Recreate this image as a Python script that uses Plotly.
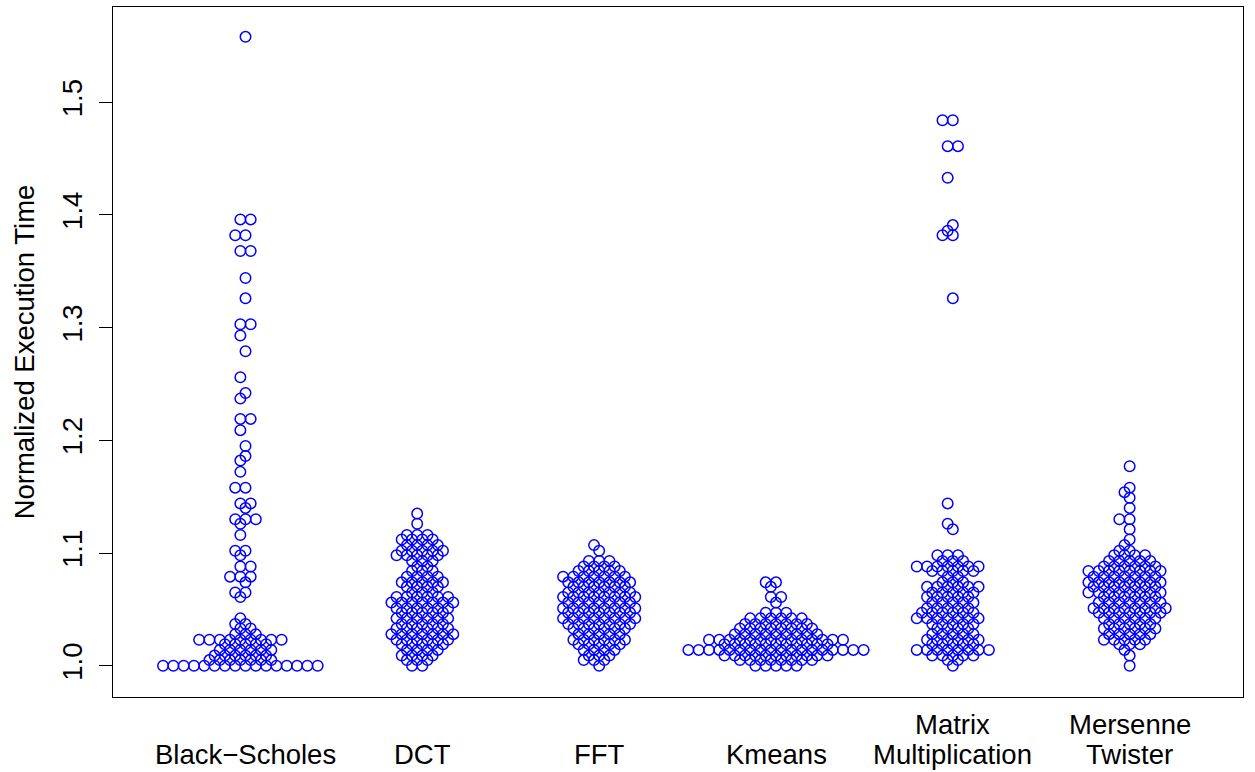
import numpy as np
import plotly.graph_objects as go

# Benchmarks and their normalized run times (value, number of runs at that value)
categories = ["Black\u2212Scholes", "DCT", "FFT", "Kmeans", "Matrix\nMultiplication", "Mersenne\nTwister"]

black_scholes_vals = [1.000, 1.005, 1.009, 1.014, 1.019, 1.023, 1.028, 1.033, 1.037, 1.042,
                      1.061, 1.065, 1.074, 1.079, 1.088, 1.098, 1.102, 1.116, 1.126, 1.130,
                      1.140, 1.144, 1.158, 1.172, 1.182, 1.186, 1.195, 1.209, 1.219, 1.237,
                      1.242, 1.256, 1.279, 1.293, 1.303, 1.326, 1.344, 1.368, 1.382, 1.396, 1.558]
black_scholes_n = [16, 7, 6, 6, 5, 9, 3, 2, 2, 1,
                   1, 2, 1, 3, 2, 1, 2, 1, 1, 3,
                   1, 2, 2, 1, 1, 1, 1, 1, 2, 1,
                   1, 1, 1, 1, 2, 1, 1, 2, 2, 2, 1]

dct_vals = [1.000, 1.005, 1.009, 1.014, 1.019, 1.023, 1.028, 1.033, 1.037, 1.042,
            1.047, 1.051, 1.056, 1.061, 1.065, 1.070, 1.074, 1.079, 1.084, 1.088,
            1.093, 1.098, 1.102, 1.107, 1.112, 1.116, 1.126, 1.135]
dct_n = [2, 3, 4, 4, 5, 6, 7, 6, 5, 6,
         5, 6, 7, 6, 3, 4, 5, 4, 3, 2,
         3, 5, 5, 4, 4, 3, 1, 1]

fft_vals = [1.000, 1.005, 1.009, 1.014, 1.019, 1.023, 1.028, 1.033, 1.037, 1.042,
            1.047, 1.051, 1.056, 1.061, 1.065, 1.070, 1.074, 1.079, 1.084, 1.088,
            1.093, 1.102, 1.107]
fft_n = [1, 3, 3, 4, 5, 6, 5, 6, 7, 8,
         7, 8, 7, 8, 7, 6, 7, 7, 5, 4,
         3, 1, 1]

kmeans_vals = [1.000, 1.005, 1.009, 1.014, 1.019, 1.023, 1.028, 1.033, 1.037, 1.042,
               1.047, 1.056, 1.061, 1.070, 1.074]
kmeans_n = [5, 8, 11, 18, 11, 14, 9, 8, 7, 6,
            3, 1, 2, 1, 2]

matrix_vals = [1.000, 1.005, 1.009, 1.014, 1.019, 1.023, 1.028, 1.033, 1.037, 1.042,
               1.047, 1.051, 1.056, 1.061, 1.065, 1.070, 1.074, 1.079, 1.084, 1.088,
               1.093, 1.098, 1.121, 1.126, 1.144, 1.326, 1.382, 1.386, 1.391, 1.433,
               1.461, 1.484]
matrix_n = [1, 2, 5, 8, 5, 6, 5, 4, 5, 7,
            6, 5, 5, 5, 5, 6, 3, 2, 5, 7,
            3, 3, 1, 1, 1, 1, 2, 1, 1, 1,
            2, 2]

mersenne_vals = [1.000, 1.009, 1.014, 1.019, 1.023, 1.028, 1.033, 1.037, 1.042, 1.047,
                 1.051, 1.056, 1.061, 1.065, 1.070, 1.074, 1.079, 1.084, 1.088, 1.093,
                 1.098, 1.102, 1.107, 1.112, 1.121, 1.130, 1.140, 1.149, 1.154, 1.158,
                 1.177]
mersenne_n = [1, 1, 1, 3, 5, 5, 6, 5, 6, 7,
              8, 7, 6, 8, 7, 8, 7, 8, 6, 5,
              4, 2, 1, 1, 1, 2, 1, 1, 1, 1,
              1]

groups = [
    (black_scholes_vals, black_scholes_n),
    (dct_vals, dct_n),
    (fft_vals, fft_n),
    (kmeans_vals, kmeans_n),
    (matrix_vals, matrix_n),
    (mersenne_vals, mersenne_n),
]

# Beeswarm ("hex" style) layout: values are binned into rows of height BIN_H;
# even rows use whole slots (0, -1, 1, -2, ...), odd rows half slots (-0.5, 0.5, ...)
BIN_H = 0.004654
SLOT_W = 0.0583
BASE = min(min(v) for v, _ in groups)


def slot_sequence(n, odd):
    out = []
    for i in range(n):
        if odd:
            m = i // 2 + 0.5
            out.append(-m if i % 2 == 0 else m)
        else:
            m = (i + 1) // 2
            out.append(-m if i % 2 == 1 else m)
    return out


xs, ys = [], []
for gi, (vals, counts) in enumerate(groups, start=1):
    y = np.repeat(np.array(vals, dtype=float), counts)
    rows = np.rint((y - BASE) / BIN_H).astype(int)
    for r in np.unique(rows):
        idx = np.where(rows == r)[0]
        offs = slot_sequence(len(idx), r % 2 == 1)
        for j, o in zip(idx, offs):
            xs.append(gi + o * SLOT_W)
            ys.append(y[j])

FONT = "Liberation Sans, Arial, Helvetica, sans-serif"
FS = 27.5
BLUE = "#0000FF"

fig = go.Figure()
fig.add_trace(go.Scatter(
    x=xs, y=ys, mode="markers",
    marker=dict(symbol="circle-open", size=10.5, color=BLUE, line=dict(width=1.5, color=BLUE)),
    hoverinfo="y", showlegend=False,
))

# Category labels below the frame, bottom-aligned like base graphics axis text
annotations = []
for gi, name in enumerate(categories, start=1):
    lines = name.split("\n")
    for li, line in enumerate(reversed(lines)):
        annotations.append(dict(
            x=gi, xref="x", y=-0.109, yref="paper", yanchor="bottom",
            yshift=li * 30, text=line, showarrow=False,
            font=dict(family=FONT, size=FS, color="black"),
        ))

fig.update_layout(
    width=1255, height=772,
    margin=dict(l=113, r=12, t=7, b=75),
    paper_bgcolor="white", plot_bgcolor="white",
    font=dict(family=FONT, size=FS, color="black"),
    annotations=annotations,
    xaxis=dict(
        range=[0.2506, 6.641], showgrid=False, zeroline=False,
        showticklabels=False, ticks="",
        showline=True, mirror=True, linecolor="black", linewidth=1.2,
    ),
    yaxis=dict(
        range=[0.97223, 1.5845], showgrid=False, zeroline=False,
        tickvals=[1.0, 1.1, 1.2, 1.3, 1.4, 1.5],
        ticktext=["1.0", "1.1", "1.2", "1.3", "1.4", "1.5"],
        tickangle=-90, ticks="outside", ticklen=13, tickwidth=1.2, tickcolor="black",
        tickfont=dict(family=FONT, size=FS), ticklabelstandoff=6,
        showline=True, mirror=True, linecolor="black", linewidth=1.2,
        title=dict(text="Normalized Execution Time", font=dict(family=FONT, size=FS), standoff=14),
    ),
)

fig.write_html("out.html")
